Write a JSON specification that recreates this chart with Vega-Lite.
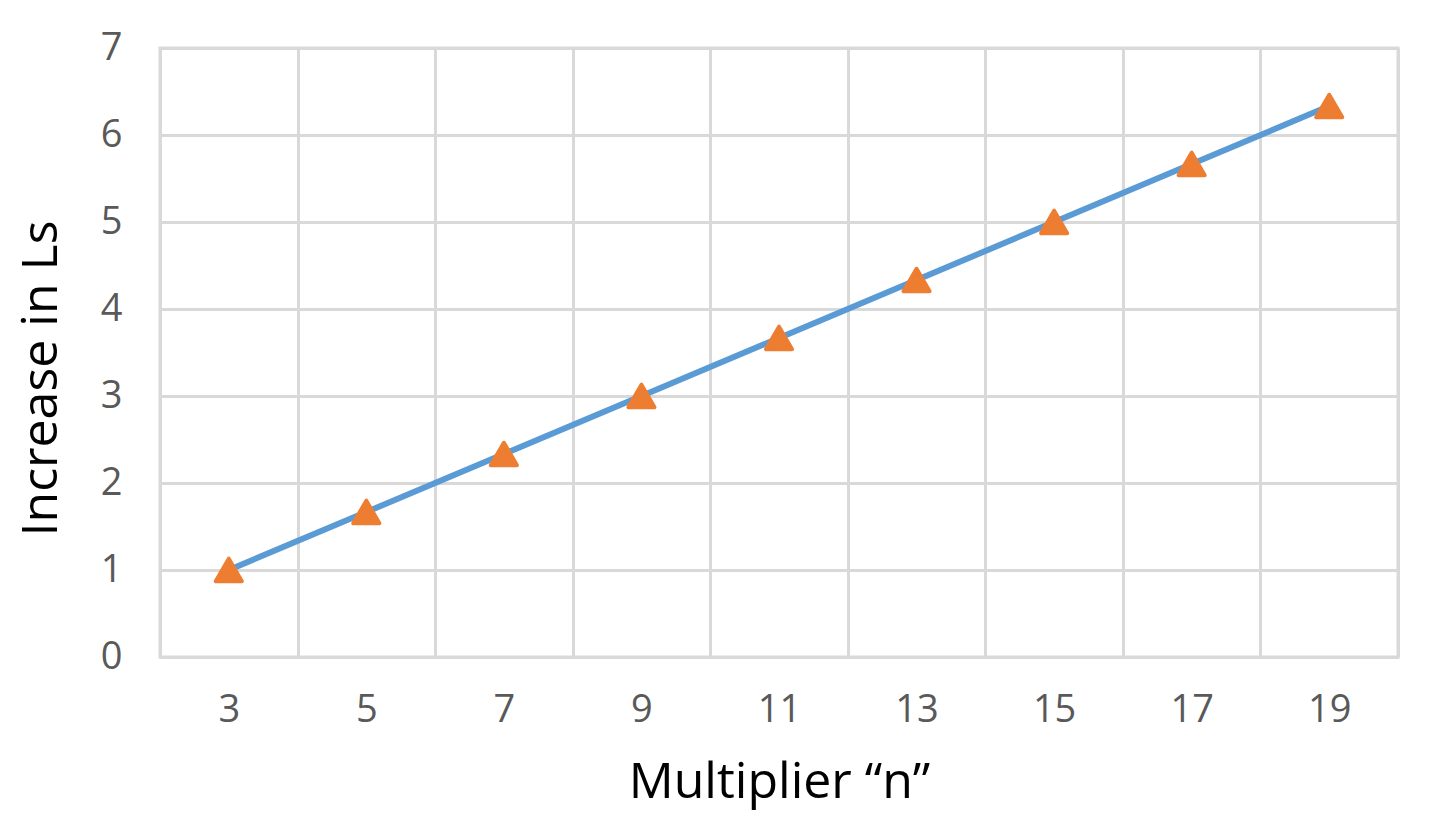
{
  "$schema": "https://vega.github.io/schema/vega-lite/v6.json",
  "autosize": {"type": "none"},
  "padding": {"left": 160, "top": 48, "right": 32, "bottom": 169},
  "width": 1238,
  "height": 609,
  "background": "white",
  "data": {
    "values": [
      {"n": 3, "increase": 1.0},
      {"n": 5, "increase": 1.667},
      {"n": 7, "increase": 2.333},
      {"n": 9, "increase": 3.0},
      {"n": 11, "increase": 3.667},
      {"n": 13, "increase": 4.333},
      {"n": 15, "increase": 5.0},
      {"n": 17, "increase": 5.667},
      {"n": 19, "increase": 6.333}
    ]
  },
  "encoding": {
    "x": {
      "field": "n",
      "type": "ordinal",
      "scale": {"paddingInner": 0, "paddingOuter": 0},
      "axis": {
        "title": "Multiplier “n”",
        "labelAngle": 0,
        "grid": true,
        "tickBand": "extent",
        "ticks": false,
        "labelPadding": 34,
        "titlePadding": 28
      }
    },
    "y": {
      "field": "increase",
      "type": "quantitative",
      "scale": {"domain": [0, 7], "nice": false},
      "axis": {
        "title": "Increase in Ls",
        "values": [0, 1, 2, 3, 4, 5, 6, 7],
        "ticks": false,
        "domain": false,
        "labelPadding": 38,
        "titlePadding": 34,
        "titleY": 330
      }
    }
  },
  "layer": [
    {
      "mark": {"type": "line", "color": "#5b9bd5", "strokeWidth": 6}
    },
    {
      "mark": {
        "type": "point",
        "shape": "triangle-up",
        "filled": true,
        "color": "#ed7d31",
        "stroke": "#ed7d31",
        "strokeWidth": 4,
        "strokeJoin": "round",
        "size": 680,
        "opacity": 1
      }
    }
  ],
  "config": {
    "view": {"stroke": "#d9d9d9", "strokeWidth": 3},
    "axis": {
      "gridColor": "#d9d9d9",
      "gridWidth": 3,
      "gridOpacity": 1,
      "domainColor": "#d9d9d9",
      "domainWidth": 3,
      "labelFont": "Open Sans",
      "labelFontSize": 38,
      "labelColor": "#595959",
      "titleFont": "Open Sans",
      "titleFontSize": 50,
      "titleFontWeight": "normal",
      "titleColor": "#000000"
    }
  }
}
